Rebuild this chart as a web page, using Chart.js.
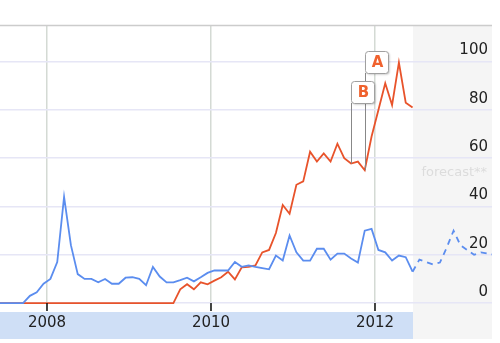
<!DOCTYPE html>
<html>
<head>
<meta charset="utf-8">
<script src="https://cdn.jsdelivr.net/npm/chart.js@4.4.1/dist/chart.umd.min.js"></script>
<style>
html, body { margin: 0; padding: 0; background: #fff; }
canvas { display: block; }
</style>
</head>
<body>
<canvas id="canvas" width="500" height="343"></canvas>
<script>
'use strict'
/* global Chart */

// monthly points, May 2007 .. Jun 2013 (last 12 are the forecast)
const months = [
  '2007-05', '2007-06', '2007-07', '2007-08', '2007-09', '2007-10', '2007-11', '2007-12',
  '2008-01', '2008-02', '2008-03', '2008-04', '2008-05', '2008-06', '2008-07', '2008-08', '2008-09', '2008-10', '2008-11', '2008-12',
  '2009-01', '2009-02', '2009-03', '2009-04', '2009-05', '2009-06', '2009-07', '2009-08', '2009-09', '2009-10', '2009-11', '2009-12',
  '2010-01', '2010-02', '2010-03', '2010-04', '2010-05', '2010-06', '2010-07', '2010-08', '2010-09', '2010-10', '2010-11', '2010-12',
  '2011-01', '2011-02', '2011-03', '2011-04', '2011-05', '2011-06', '2011-07', '2011-08', '2011-09', '2011-10', '2011-11', '2011-12',
  '2012-01', '2012-02', '2012-03', '2012-04', '2012-05', '2012-06', '2012-07', '2012-08', '2012-09', '2012-10', '2012-11', '2012-12',
  '2013-01', '2013-02', '2013-03', '2013-04', '2013-05', '2013-06'
]

const blueValues = [
  0, 0, 0, 0, 0, 3, 4.5, 8,
  10, 17, 44, 24, 12, 10, 10, 8.6, 10, 8, 8, 10.5,
  10.7, 10, 7.4, 15, 11, 8.6, 8.6, 9.5, 10.5, 9, 10.7, 12.5,
  13.5, 13.5, 13.5, 17, 15, 15.6, 15, 14.5, 14, 19.7, 17.6, 28,
  21, 17.6, 17.6, 22.5, 22.5, 18, 20.5, 20.5, 18.5, 16.8, 30, 30.7,
  22, 21, 17.6, 19.7, 19, 13
]
const blueForecast = [18, 17, 16, 16.8, 23, 30, 24, 22, 20, 21, 20.5, 20]

const redValues = [
  0, 0, 0, 0, 0, 0, 0, 0,
  0, 0, 0, 0, 0, 0, 0, 0, 0, 0, 0, 0,
  0, 0, 0, 0, 0, 0, 0, 5.7, 7.8, 5.7, 8.6, 7.8,
  9.3, 10.7, 13, 9.8, 14.8, 15, 15.6, 21, 22, 29, 40.6, 37,
  49, 50.4, 62.7, 58.6, 62, 58.6, 66, 60, 57.8, 58.6, 55, 69,
  80, 91, 82, 99.6, 83, 81
]

const yearTicks = [2008, 2010, 2012]
const valueTicks = [0, 20, 40, 60, 80, 100]

const noteLetters = ['A', 'B']
const noteMonths = ['2011-11', '2011-09']

const blue = '#5b8def'
const red = '#e8532b'

const toYear = m => {
  const [y, mo] = m.split('-').map(Number)
  return y + (mo - 0.5) / 12
}
const lastActual = blueValues.length - 1
const bluePoints = blueValues.concat(blueForecast).map((v, i) => ({ x: toYear(months[i]), y: v }))
const redPoints = redValues.map((v, i) => ({ x: toYear(months[i]), y: v }))

const backdrop = {
  id: 'backdrop',
  beforeDraw (chart) {
    const { ctx, chartArea: area, scales: { x } } = chart
    const split = Math.round(x.getPixelForValue(toYear(months[lastActual])))
    ctx.save()
    ctx.fillStyle = '#f5f5f5'
    ctx.fillRect(split, area.top, area.right - split, 339 - area.top)
    ctx.fillStyle = '#cfdff6'
    ctx.fillRect(area.left, area.bottom + 1, split - area.left, 339 - area.bottom - 1)
    ctx.restore()
  },
  beforeDatasetsDraw (chart) {
    const { ctx, chartArea: area } = chart
    ctx.save()
    ctx.strokeStyle = '#cccccc'
    ctx.lineWidth = 1.5
    ctx.beginPath()
    ctx.moveTo(area.left, area.top + 0.5)
    ctx.lineTo(area.right, area.top + 0.5)
    ctx.stroke()
    ctx.fillStyle = '#dcdcdc'
    ctx.font = '13px "DejaVu Sans"'
    ctx.textAlign = 'right'
    ctx.textBaseline = 'middle'
    ctx.fillText('forecast**', area.right - 5, area.top + 148)
    ctx.restore()
  },
  afterDatasetsDraw (chart) {
    const { ctx, chartArea: area, scales: { x, y } } = chart
    ctx.save()
    // black tick marks under the zero line
    ctx.strokeStyle = '#111'
    ctx.lineWidth = 1.5
    yearTicks.forEach(t => {
      const px = Math.round(x.getPixelForValue(t))
      ctx.beginPath()
      ctx.moveTo(px, y.getPixelForValue(0))
      ctx.lineTo(px, area.bottom)
      ctx.stroke()
    })
    // annotation flags on the red series
    const flags = noteLetters.map((letter, row) => {
      const idx = months.indexOf(noteMonths[row])
      const px = Math.round(x.getPixelForValue(toYear(months[idx]))) + 0.5
      const top = area.top + 26 + row * 30
      return { letter, px, top, py: y.getPixelForValue(redValues[idx]) }
    })
    ctx.strokeStyle = '#888'
    ctx.lineWidth = 1
    flags.forEach(f => {
      ctx.beginPath()
      ctx.moveTo(f.px, f.top + 22)
      ctx.lineTo(f.px, f.py)
      ctx.stroke()
    })
    flags.slice().reverse().forEach(f => {
      ctx.save()
      ctx.shadowColor = 'rgba(0,0,0,0.25)'
      ctx.shadowOffsetX = 1
      ctx.shadowOffsetY = 1
      ctx.shadowBlur = 2
      ctx.fillStyle = '#fff'
      ctx.beginPath()
      ctx.roundRect(f.px, f.top + 0.5, 23, 22, 3)
      ctx.fill()
      ctx.restore()
      ctx.strokeStyle = '#a0a0a0'
      ctx.beginPath()
      ctx.roundRect(f.px, f.top + 0.5, 23, 22, 3)
      ctx.stroke()
      ctx.fillStyle = '#f0622e'
      ctx.font = 'bold 15px "DejaVu Sans"'
      ctx.textAlign = 'center'
      ctx.textBaseline = 'middle'
      ctx.fillText(f.letter, f.px + 12, f.top + 12)
    })
    ctx.restore()
  }
}

const chart = new Chart(document.getElementById('canvas').getContext('2d'), {
  type: 'line',
  data: {
    datasets: [
      {
        data: bluePoints,
        borderColor: blue,
        borderWidth: 1.8,
        pointRadius: 0,
        tension: 0,
        segment: {
          borderDash: ctx => ctx.p0DataIndex >= lastActual ? [6, 5] : undefined
        }
      },
      {
        data: redPoints,
        borderColor: red,
        borderWidth: 1.8,
        pointRadius: 0,
        tension: 0
      }
    ]
  },
  options: {
    responsive: false,
    animation: false,
    events: [],
    layout: { autoPadding: false, padding: { top: 25, left: 0, right: 8, bottom: 8 } },
    plugins: { legend: { display: false }, tooltip: { enabled: false } },
    scales: {
      x: {
        type: 'linear',
        min: 2007.427,
        max: 2013.427,
        afterBuildTicks: axis => { axis.ticks = yearTicks.map(v => ({ value: v })) },
        border: { display: false },
        grid: { color: '#d4dad4', lineWidth: 1.5, drawTicks: false },
        ticks: {
          padding: 3,
          color: '#222',
          font: { family: 'DejaVu Sans', size: 15 },
          callback: v => String(v)
        }
      },
      y: {
        position: 'right',
        min: -3.28,
        max: 115.16,
        afterBuildTicks: axis => { axis.ticks = valueTicks.map(v => ({ value: v })) },
        border: { display: false },
        grid: { color: '#e6e6f6', lineWidth: 1.5, drawTicks: false },
        ticks: {
          mirror: true,
          padding: -4,
          labelOffset: -11,
          color: '#222',
          font: { family: 'DejaVu Sans', size: 15 }
        }
      }
    }
  },
  plugins: [backdrop]
})
</script>
</body>
</html>
